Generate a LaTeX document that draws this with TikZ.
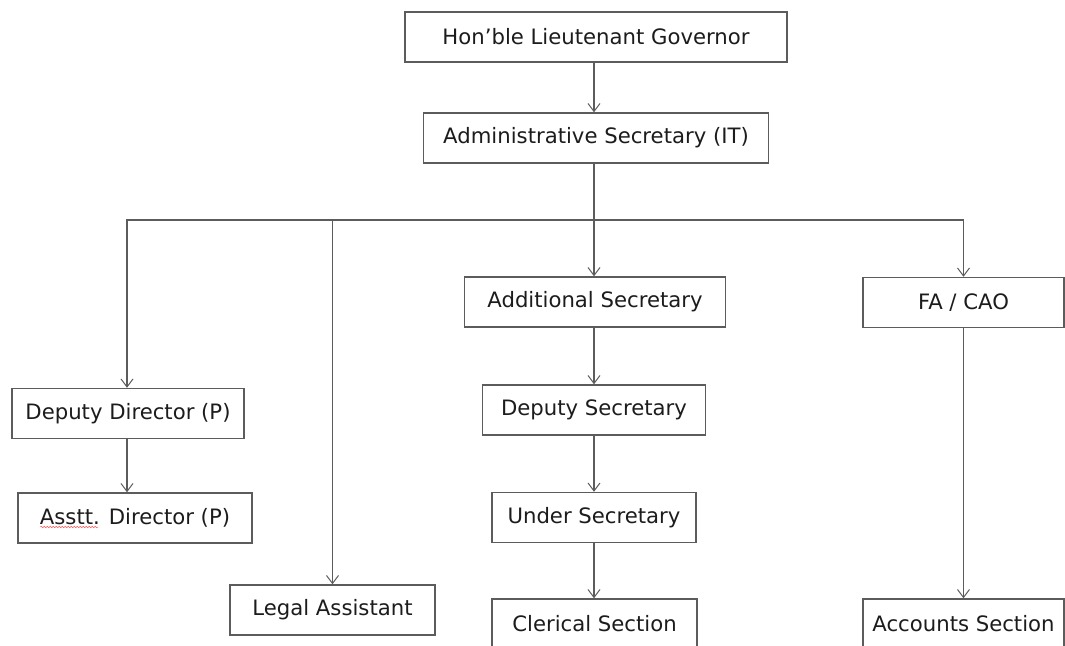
\documentclass[tikz,border=0pt]{standalone}
\usepackage{fontspec}
\setmainfont{DejaVu Sans}
\usetikzlibrary{arrows.meta, decorations.pathmorphing}

\definecolor{linegray}{HTML}{5C5C5C}
\definecolor{textgray}{HTML}{1C1C1C}

\begin{document}
\begin{tikzpicture}[
    x=1pt, y=-1pt,
    post/.style={draw=linegray, line width=1.4pt, fill=white, text=textgray, minimum height=50pt, inner sep=0pt, font=\fontsize{21.2}{25}\selectfont},
    link/.style={draw=linegray, line width=1.2pt, -{Straight Barb[length=8pt, width=12pt, line width=1pt]}},
    feed/.style={draw=linegray, line width=1.2pt},
]
\useasboundingbox (0, 0) rectangle (1065, 645);

\draw (596, 37) node[post, minimum width=382pt] (gov) {Hon’ble Lieutenant Governor};
\draw (596, 138) node[post, minimum width=345pt] (admin) {Administrative Secretary (IT)};
\coordinate (bus) at (594, 220);

\draw (595, 302) node[post, minimum width=261pt] (addl) {Additional Secretary};
\draw (594, 410) node[post, minimum width=223pt] (depsec) {Deputy Secretary};
\draw (594, 517.5) node[post, minimum width=204pt] (undersec) {Under Secretary};
\draw (594.5, 624) node[post, minimum width=205pt] (clerical) {Clerical Section};

\draw (963.5, 302.5) node[post, minimum width=201pt] (facao) {FA / CAO};
\draw (963.5, 624) node[post, minimum width=201pt] (accounts) {Accounts Section};

\draw (128, 413.5) node[post, minimum width=232pt] (depdir) {Deputy Director (P)};
\draw (135, 518) node[post, minimum width=234pt] (asstt) {Asstt. Director (P)};
\draw (332.5, 610) node[post, minimum width=205pt] (legal) {Legal Assistant};

\draw[red!65, line width=.5pt, decorate, decoration={snake, amplitude=.7pt, segment length=3pt}] ([shift={(23pt, -9pt)}]asstt.west) -- ++(58, 0);

\draw[link] ([xshift=-2pt]gov.south) -- ([xshift=-2pt]gov.south |- admin.north);
\draw[feed] ([xshift=-2pt]admin.south) -- (bus);
\draw[link] (bus) -- (bus |- addl.north);
\draw[link] (bus) -| ([xshift=-1pt]depdir.north);
\draw[link] (bus) -| (facao.north);
\draw[link] (legal.north |- bus) -- (legal.north);

\draw[link] ([xshift=-1pt]depdir.south) -- ([xshift=-1pt]depdir.south |- asstt.north);
\draw[link] (addl.south -| bus) -- (depsec.north -| bus);
\draw[link] (depsec.south -| bus) -- (undersec.north -| bus);
\draw[link] (undersec.south -| bus) -- (clerical.north -| bus);
\draw[link] (facao.south) -- (accounts.north);
\end{tikzpicture}
\end{document}
